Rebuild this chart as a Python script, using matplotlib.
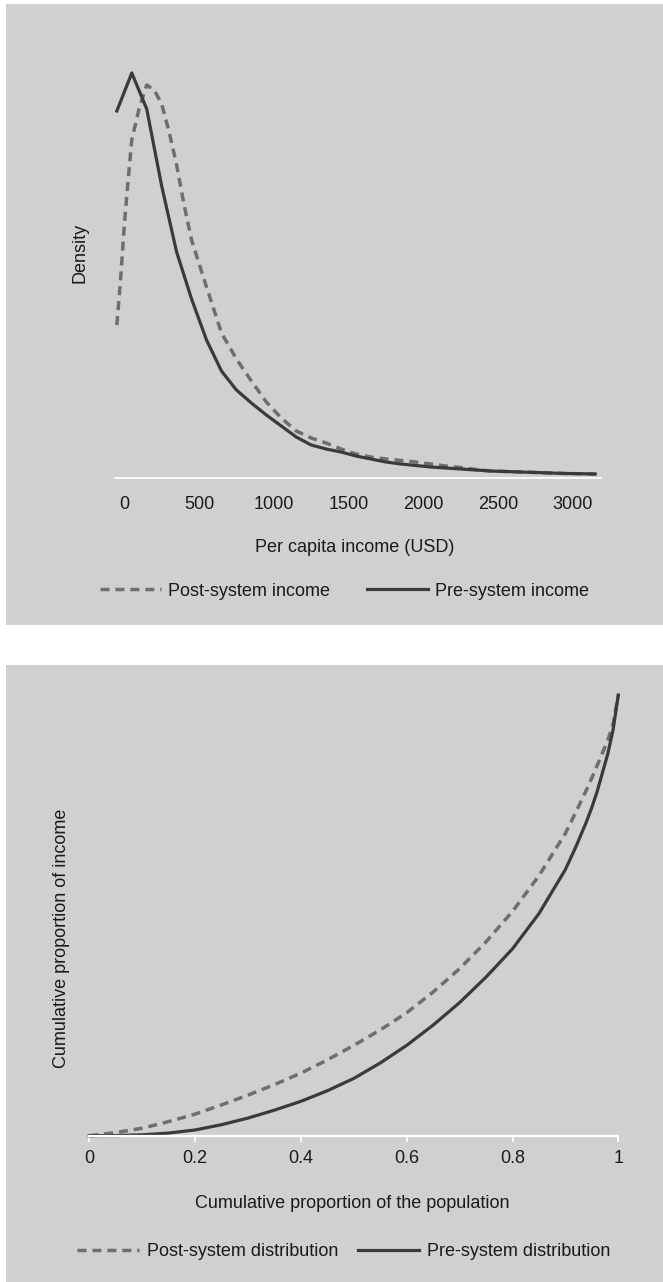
import matplotlib
matplotlib.use('Agg')
import matplotlib.pyplot as plt
from matplotlib import font_manager
from matplotlib.patches import Rectangle
from matplotlib.lines import Line2D

# income density (arbitrary units, no y ticks in the original)
inc_x = [-50, 50, 150, 250, 350, 450, 550, 650, 750, 850, 950, 1050, 1150, 1250,
         1350, 1450, 1550, 1650, 1750, 1850, 1950, 2050, 2150, 2250, 2350, 2450,
         2550, 2650, 2750, 2850, 2950, 3050, 3150]
pre_dens = [3.67, 4.05, 3.69, 2.92, 2.26, 1.79, 1.38, 1.07, 0.88, 0.75, 0.63, 0.52,
            0.41, 0.33, 0.29, 0.26, 0.22, 0.19, 0.16, 0.14, 0.125, 0.11, 0.10, 0.09,
            0.08, 0.07, 0.065, 0.06, 0.055, 0.05, 0.045, 0.043, 0.04]
post_x = [-50, -25, 0, 25, 50, 100, 150, 200, 250, 300, 350, 400, 450, 550, 650,
          750, 850, 950, 1050, 1150, 1250, 1350, 1450, 1550, 1650, 1750, 1850,
          1950, 2050, 2150, 2250, 2350, 2450, 2550, 2650, 2750, 2850, 2950, 3050, 3150]
post_dens = [1.53, 1.98, 2.53, 2.97, 3.38, 3.70, 3.93, 3.88, 3.74, 3.46, 3.13, 2.73,
             2.38, 1.91, 1.45, 1.19, 0.97, 0.76, 0.60, 0.47, 0.40, 0.35, 0.29, 0.24,
             0.21, 0.19, 0.175, 0.16, 0.14, 0.12, 0.105, 0.085, 0.07, 0.065, 0.06,
             0.055, 0.05, 0.045, 0.043, 0.04]
inc_ticks = [0, 500, 1000, 1500, 2000, 2500, 3000]

# Lorenz curves
pop = [0, 0.05, 0.1, 0.15, 0.2, 0.25, 0.3, 0.35, 0.4, 0.45, 0.5, 0.55, 0.6, 0.65,
       0.7, 0.75, 0.8, 0.85, 0.9, 0.92, 0.94, 0.95, 0.96, 0.98, 0.99, 1.0]
pre_lorenz = [0, 0.0003, 0.002, 0.006, 0.013, 0.025, 0.040, 0.058, 0.078, 0.102,
              0.130, 0.165, 0.205, 0.251, 0.302, 0.360, 0.424, 0.504, 0.604, 0.656,
              0.713, 0.745, 0.781, 0.866, 0.920, 1.0]
post_lorenz = [0, 0.007, 0.017, 0.032, 0.049, 0.070, 0.092, 0.116, 0.142, 0.172,
               0.205, 0.240, 0.279, 0.326, 0.379, 0.440, 0.509, 0.590, 0.686, 0.735,
               0.785, 0.812, 0.840, 0.897, 0.933, 1.0]
pop_ticks = [0, 0.2, 0.4, 0.6, 0.8, 1]
pop_labels = ['0', '0.2', '0.4', '0.6', '0.8', '1']

names = {f.name for f in font_manager.fontManager.ttflist}
if 'Liberation Sans Narrow' in names:
    fam, fs = 'Liberation Sans Narrow', 15.5
else:
    fam, fs = 'Liberation Sans', 13
plt.rcParams['font.family'] = [fam, 'DejaVu Sans']

bg = '#d0d0d0'
dark = '#3a3a3a'
mid = '#6e6e6e'
txt = '#1a1a1a'

W, H = 663, 1282
fig = plt.figure(figsize=(W / 100, H / 100), dpi=100)
fig.patch.set_facecolor('white')

def box(l, t, r, b):
    return [l / W, 1 - b / H, (r - l) / W, (b - t) / H]

# grey panels
fig.patches.append(Rectangle((6 / W, 1 - 625 / H), (W - 6) / W, (625 - 4) / H,
                             transform=fig.transFigure, facecolor=bg, edgecolor='none', zorder=-5))
fig.patches.append(Rectangle((6 / W, 0), (W - 6) / W, (H - 665) / H,
                             transform=fig.transFigure, facecolor=bg, edgecolor='none', zorder=-5))

# ---- top: density ----
ax1 = fig.add_axes(box(115, 40, 601, 478))
ax1.set_zorder(2)
ax1.set_facecolor('none')
ax1.plot(post_x, post_dens, color=mid, lw=2.5, dashes=(2.6, 1.7), solid_capstyle='butt')
ax1.plot(inc_x, pre_dens, color=dark, lw=2.3)
ax1.set_xlim((115 - 124.3) / 0.1495, (601 - 124.3) / 0.1495)
ax1.set_ylim(0, 4.38)
ax1.set_xticks(inc_ticks)
ax1.set_xticklabels([str(t) for t in inc_ticks])
ax1.set_yticks([])
for s in ['top', 'right', 'left']:
    ax1.spines[s].set_visible(False)
ax1.spines['bottom'].set_color('white')
ax1.spines['bottom'].set_linewidth(1.2)
ax1.tick_params(axis='x', length=0, pad=13, labelsize=fs, colors=txt)

fig.text(355 / W, 1 - 547 / H, 'Per capita income (USD)', ha='center', va='center',
         fontsize=fs, color=txt)
fig.text(80 / W, 1 - 253 / H, 'Density', ha='center', va='center', rotation=90,
         fontsize=fs, color=txt)

h1 = [Line2D([], [], color=mid, lw=2.5, dashes=(2.6, 1.7)),
      Line2D([], [], color=dark, lw=2.3)]
fig.legend(h1, ['Post-system income', 'Pre-system income'], loc='center',
           bbox_to_anchor=(344.5 / W, 1 - 591 / H), ncol=2, frameon=False,
           fontsize=fs, handlelength=3.4, handletextpad=0.4, columnspacing=2.0,
           borderpad=0, labelcolor=txt)

# ---- bottom: Lorenz curves ----
ax2 = fig.add_axes(box(89.3, 680, 618.3, 1135.7))
ax2.set_zorder(2)
ax2.set_facecolor('none')
ax2.plot(pop, post_lorenz, color=mid, lw=2.5, dashes=(2.6, 1.7), clip_on=False)
ax2.plot(pop, pre_lorenz, color=dark, lw=2.3, clip_on=False)
ax2.set_xlim(0, 1)
ax2.set_ylim(0, (1135.7 - 680) / 440.7)
ax2.set_xticks(pop_ticks)
ax2.set_xticklabels(pop_labels)
ax2.set_yticks([])
for s in ['top', 'right', 'left']:
    ax2.spines[s].set_visible(False)
ax2.spines['bottom'].set_color('white')
ax2.spines['bottom'].set_linewidth(1.6)
ax2.tick_params(axis='x', length=4.5, width=1.3, color='white', pad=6,
                labelsize=fs, labelcolor=txt)

fig.text(352 / W, 1 - 1203 / H, 'Cumulative proportion of the population',
         ha='center', va='center', fontsize=fs, color=txt)
fig.text(61 / W, 1 - 938 / H, 'Cumulative proportion of income', ha='center',
         va='center', rotation=90, fontsize=fs, color=txt)

h2 = [Line2D([], [], color=mid, lw=2.5, dashes=(2.6, 1.7)),
      Line2D([], [], color=dark, lw=2.3)]
fig.legend(h2, ['Post-system distribution', 'Pre-system distribution'], loc='center',
           bbox_to_anchor=(344 / W, 1 - 1252 / H), ncol=2, frameon=False,
           fontsize=fs, handlelength=3.4, handletextpad=0.45, columnspacing=1.1,
           borderpad=0, labelcolor=txt)

fig.savefig('out.png', dpi=100, facecolor='white')
